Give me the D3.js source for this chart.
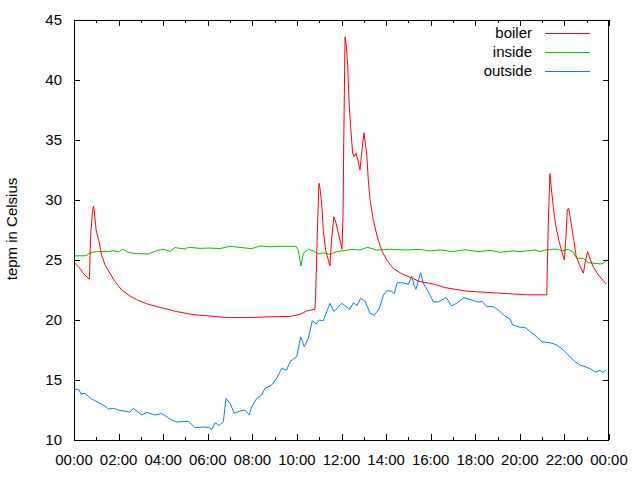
<!DOCTYPE html>
<html><head><meta charset="utf-8">
<script src="https://cdn.jsdelivr.net/npm/d3@7"></script>
<style>body{margin:0;background:#fff}text{font-family:"Liberation Sans",Arial,sans-serif}</style>
</head><body><svg id="c" width="640" height="480"></svg>
<script>
// times are in decimal hours since 00:00
const seriesNames = ["boiler", "inside", "outside"];
const seriesColors = ["#ff0000", "#00c000", "#0080ff"];
const xTickLabels = ["00:00","02:00","04:00","06:00","08:00","10:00","12:00","14:00","16:00","18:00","20:00","22:00","00:00"];
const yTicks = [10,15,20,25,30,35,40,45];

const boilerTimes = [0,0.27,0.45,0.69,0.75,0.82,0.87,0.91,0.99,1.13,1.24,1.39,1.61,1.84,2.14,2.51,2.81,3.26,3.86,4.61,5.35,6.10,6.85,7.9,8.79,9.69,10.14,10.44,10.81,10.84,10.93,10.99,11.05,11.13,11.18,11.29,11.41,11.48,11.56,11.66,11.75,11.86,11.96,12.02,12.07,12.10,12.16,12.22,12.28,12.34,12.41,12.50,12.56,12.65,12.74,12.83,12.91,13.01,13.05,13.13,13.20,13.28,13.43,13.61,13.80,14.03,14.32,14.70,15.22,15.52,16.12,16.64,17.62,18.51,19.41,20.31,21.21,21.22,21.28,21.35,21.41,21.47,21.55,21.65,21.77,21.88,22.00,22.06,22.13,22.19,22.28,22.40,22.52,22.67,22.85,22.95,23.04,23.15,23.30,23.52,23.74,23.87];
const boilerValues = [24.8,24.3,23.8,23.4,27.2,28.8,29.5,29.1,27.5,26.5,25.4,24.6,23.9,23.2,22.5,22.0,21.7,21.35,21.05,20.7,20.45,20.33,20.2,20.2,20.27,20.3,20.47,20.75,20.9,22.1,28.3,31.4,30.8,29.2,27.5,25.8,25.0,24.5,26.9,28.6,28.1,27.2,26.4,25.9,28.9,34.7,43.6,42.8,41.1,38.1,36.1,33.9,33.6,33.9,33.3,32.5,34.0,35.6,35.0,33.9,31.7,30.0,28.3,26.9,25.8,25.0,24.3,23.85,23.45,23.2,23.0,22.7,22.4,22.3,22.2,22.1,22.1,23.3,28.3,32.2,31.0,30.0,28.6,27.5,26.5,25.7,25.0,26.7,29.2,29.3,28.3,26.9,25.4,24.6,23.9,25.0,25.7,25.1,24.4,23.75,23.3,23.0];

const insideTimes = [0,0.54,0.72,1.02,1.54,1.76,1.99,2.18,2.36,2.66,3.33,3.71,4.01,4.31,4.53,4.98,5.13,5.65,6.10,6.55,7.0,7.45,7.97,8.34,8.79,9.24,9.96,10.06,10.18,10.29,10.51,10.74,10.96,11.18,11.48,11.78,12.46,12.83,13.16,13.58,14.18,14.92,15.52,15.97,16.42,16.96,17.54,18.12,18.66,19.11,19.65,20.01,20.68,20.9,21.13,21.49,21.67,21.88,22.17,22.38,22.55,22.84,23.07,23.6,23.73,23.87];
const insideValues = [25.35,25.35,25.6,25.7,25.7,25.78,25.67,25.9,25.7,25.55,25.5,25.78,25.9,25.72,26.03,25.92,26.06,25.97,26.0,25.95,26.14,26.05,25.94,26.17,26.1,26.14,26.14,25.83,24.5,25.56,25.89,25.75,25.5,25.6,25.47,25.69,25.89,25.83,26.06,25.83,25.89,25.83,25.89,25.75,25.85,25.7,25.85,25.7,25.8,25.65,25.75,25.7,25.83,25.7,25.83,25.9,25.9,25.75,25.89,25.7,25.14,25.14,24.78,24.67,24.7,24.94];

const outsideTimes = [0,0.22,0.31,0.49,0.79,1.17,1.39,1.54,1.76,2.06,2.51,2.66,3.04,3.26,3.63,3.93,4.38,4.61,5.13,5.43,5.80,6.01,6.18,6.33,6.52,6.70,6.82,7.0,7.19,7.45,7.67,7.86,7.97,8.2,8.42,8.57,8.87,9.09,9.32,9.54,9.69,9.99,10.17,10.33,10.51,10.69,10.86,11.0,11.18,11.34,11.48,11.66,12.01,12.38,12.53,12.7,12.86,13.05,13.28,13.47,13.70,13.88,14.03,14.25,14.36,14.50,14.77,15.0,15.15,15.25,15.34,15.45,15.55,15.67,15.89,16.12,16.34,16.69,16.94,17.17,17.5,17.84,18.07,18.33,18.51,18.81,19.03,19.33,19.56,19.68,20.01,20.23,20.46,20.76,20.98,21.35,21.65,21.95,22.25,22.47,22.7,23.0,23.27,23.37,23.6,23.72,23.87];
const outsideValues = [14.22,14.22,13.83,13.89,13.42,13.06,12.83,12.58,12.64,12.47,12.33,12.64,12.08,12.31,12.08,12.22,11.67,11.5,11.56,11.03,11.08,11.05,10.89,11.44,11.22,11.53,13.47,13.06,12.22,12.42,12.5,12.08,12.78,13.47,13.75,14.31,14.58,15.14,15.97,15.83,16.53,16.94,18.6,17.78,18.47,19.94,19.67,20.0,19.94,20.7,21.39,20.7,21.39,20.89,21.44,21.2,21.8,21.6,20.56,20.39,20.97,22.08,22.44,22.4,22.17,23.1,23.1,22.97,23.67,22.9,22.56,23.3,23.94,23.06,22.36,21.53,21.5,21.89,21.17,21.4,21.86,21.67,21.5,21.53,21.11,21.11,20.83,20.33,20.08,19.58,19.39,19.39,19.03,18.6,18.19,18.11,17.92,17.5,16.94,16.53,16.25,16.06,15.83,15.64,15.8,15.64,15.83];

const W = 640, H = 480, L = 74, T = 20, R = 609, B = 440;
const svg = d3.select("#c");
const x = d3.scaleLinear().domain([0, 24]).range([L, R]);
const y = d3.scaleLinear().domain([10, 45]).range([B, T]);

// ticks
const g = svg.append("g").attr("shape-rendering", "crispEdges").attr("stroke", "#000");
d3.range(0, 25, 1).forEach(h => {
  const len = h % 2 === 0 ? 6 : 3;
  const xx = Math.round(x(h)) + 0.5;
  g.append("line").attr("x1", xx).attr("x2", xx).attr("y1", B).attr("y2", B - len);
  g.append("line").attr("x1", xx).attr("x2", xx).attr("y1", T).attr("y2", T + len);
});
yTicks.forEach(v => {
  const yy = Math.round(y(v)) + 0.5;
  g.append("line").attr("x1", L).attr("x2", L + 6).attr("y1", yy).attr("y2", yy);
  g.append("line").attr("x1", R).attr("x2", R - 6).attr("y1", yy).attr("y2", yy);
});

// labels
const fs = 15;
xTickLabels.forEach((lab, i) => {
  svg.append("text").attr("x", x(i * 2)).attr("y", 465).attr("text-anchor", "middle")
    .attr("font-size", fs).attr("fill", "#000").text(lab);
});
yTicks.forEach(v => {
  svg.append("text").attr("x", 62).attr("y", y(v) + 5).attr("text-anchor", "end")
    .attr("font-size", fs).attr("fill", "#000").text(v);
});
svg.append("text").attr("transform", "translate(17,229) rotate(-90)").attr("text-anchor", "middle")
  .attr("font-size", fs).attr("fill", "#000").text("tepm in Celsius");

// lines
const data = [
  boilerTimes.map((t, i) => [t, boilerValues[i]]),
  insideTimes.map((t, i) => [t, insideValues[i]]),
  outsideTimes.map((t, i) => [t, outsideValues[i]])
];
const line = d3.line().x(d => x(d[0])).y(d => y(d[1]));
[1, 2, 0].forEach(i => {
  svg.append("path").attr("d", line(data[i])).attr("fill", "none")
    .attr("stroke", seriesColors[i]).attr("stroke-width", 1);
});

// legend
seriesNames.forEach((n, i) => {
  const cy = 33 + i * 19;
  svg.append("text").attr("x", 532).attr("y", cy + 5).attr("text-anchor", "end")
    .attr("font-size", fs).attr("fill", "#000").text(n);
  svg.append("line").attr("x1", 545).attr("x2", 590).attr("y1", cy + 0.5).attr("y2", cy + 0.5)
    .attr("stroke", seriesColors[i]).attr("stroke-width", 1).attr("shape-rendering", "crispEdges");
});

// border
svg.append("rect").attr("x", L + 0.5).attr("y", T + 0.5).attr("width", R - L - 1).attr("height", B - T)
  .attr("fill", "none").attr("stroke", "#000").attr("shape-rendering", "crispEdges");
</script></body></html>
